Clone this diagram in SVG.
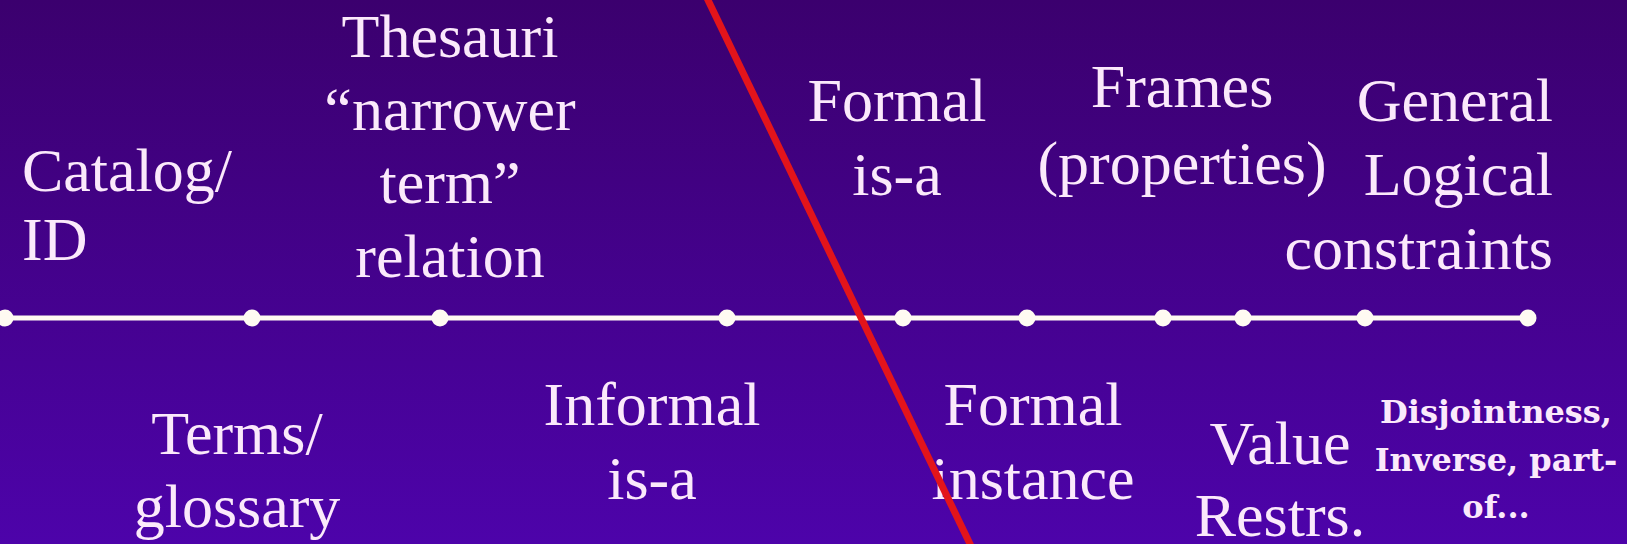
<svg xmlns="http://www.w3.org/2000/svg" width="1627" height="544" viewBox="0 0 1627 544">
<defs>
<linearGradient id="bg" x1="0" y1="0" x2="0" y2="1">
<stop offset="0" stop-color="#3b006e"/>
<stop offset="1" stop-color="#4d03aa"/>
</linearGradient>
</defs>
<style>
.t{font-family:"Liberation Serif",Tinos,"Times New Roman",Times,"DejaVu Serif",serif;font-size:62px;fill:#fbe9fb}
.m{text-anchor:middle}
.e{text-anchor:end}
.b{font-family:"DejaVu Serif","Liberation Serif",serif;font-weight:bold;font-size:32px;fill:#fbe9fb;text-anchor:middle}
.dot{fill:#fffaf2}
</style>
<rect x="0" y="0" width="1627" height="544" fill="url(#bg)"/>
<g id="connectors">
<line x1="0" y1="318" x2="1528" y2="318" stroke="#fffaf2" stroke-width="5"/>
</g>
<g id="dots">
<circle class="dot" cx="5" cy="318" r="8.5"/>
<circle class="dot" cx="252" cy="318" r="8.5"/>
<circle class="dot" cx="440" cy="318" r="8.5"/>
<circle class="dot" cx="727" cy="318" r="8.5"/>
<circle class="dot" cx="903" cy="318" r="8.5"/>
<circle class="dot" cx="1027" cy="318" r="8.5"/>
<circle class="dot" cx="1163" cy="318" r="8.5"/>
<circle class="dot" cx="1243" cy="318" r="8.5"/>
<circle class="dot" cx="1365" cy="318" r="8.5"/>
<circle class="dot" cx="1528" cy="318" r="8.5"/>
</g>
<g id="catalog"><text class="t" x="22" y="191">Catalog/</text><text class="t" x="22" y="260">ID</text></g>
<g id="thesauri"><text class="t m" x="450" y="57">Thesauri</text><text class="t m" x="450" y="130">“narrower</text><text class="t m" x="450" y="203">term”</text><text class="t m" x="450" y="277">relation</text></g>
<g id="formal-isa"><text class="t m" x="897" y="121">Formal</text><text class="t m" x="897" y="195">is-a</text></g>
<g id="frames"><text class="t m" x="1182" y="107">Frames</text><text class="t m" x="1182" y="184">(properties)</text></g>
<g id="general"><text class="t e" x="1553" y="121">General</text><text class="t e" x="1553" y="195">Logical</text><text class="t e" x="1553" y="269">constraints</text></g>
<g id="terms"><text class="t m" x="237" y="454">Terms/</text><text class="t m" x="237" y="527">glossary</text></g>
<g id="informal"><text class="t m" x="652" y="425">Informal</text><text class="t m" x="652" y="499">is-a</text></g>
<g id="formal-instance"><text class="t m" x="1033" y="425">Formal</text><text class="t m" x="1033" y="499">instance</text></g>
<g id="value"><text class="t m" x="1280" y="464">Value</text><text class="t m" x="1280" y="536">Restrs.</text></g>
<g id="disjointness"><text class="b" x="1496" y="423">Disjointness,</text><text class="b" x="1496" y="471">Inverse, part-</text><text class="b" x="1496" y="518">of...</text></g>
<g id="divider">
<line x1="707" y1="-2" x2="971" y2="546" stroke="#e3141b" stroke-width="7"/>
</g>
</svg>
